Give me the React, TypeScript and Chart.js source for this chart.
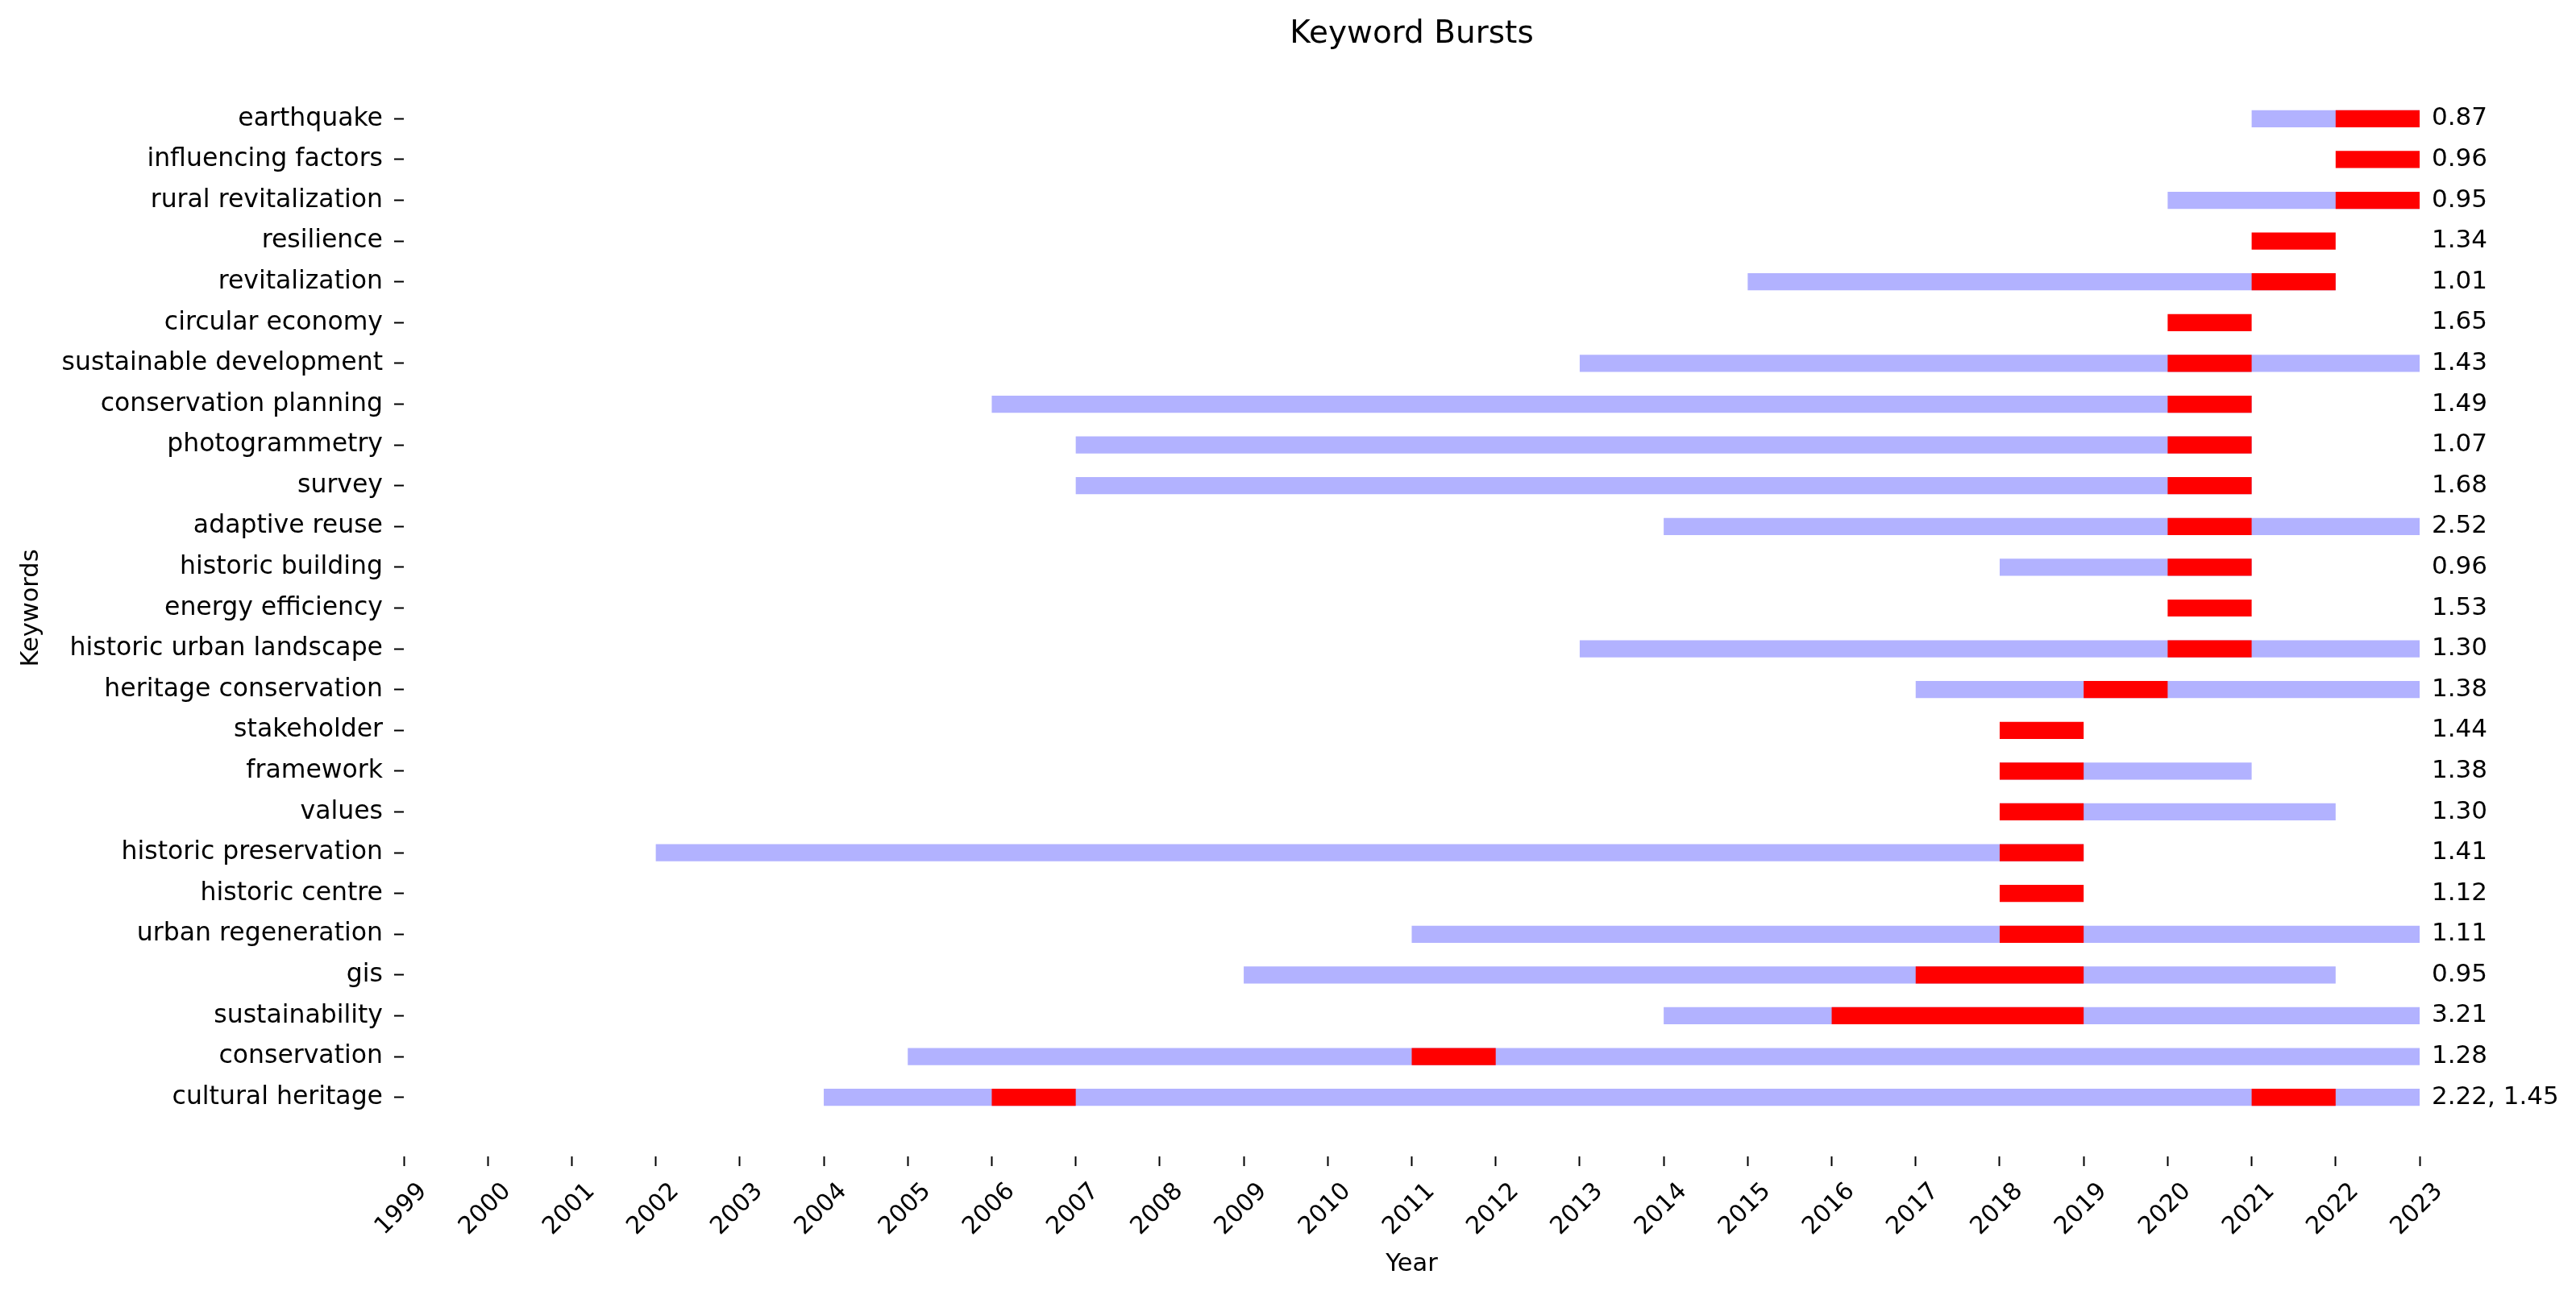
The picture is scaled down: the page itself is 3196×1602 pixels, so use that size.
import React, { useEffect, useRef } from "react";
import { Chart, registerables } from "chart.js";

Chart.register(...registerables);

// Rows listed top to bottom as in the figure
const keywords = [
  "earthquake", "influencing factors", "rural revitalization", "resilience", "revitalization",
  "circular economy", "sustainable development", "conservation planning", "photogrammetry", "survey",
  "adaptive reuse", "historic building", "energy efficiency", "historic urban landscape",
  "heritage conservation", "stakeholder", "framework", "values", "historic preservation",
  "historic centre", "urban regeneration", "gis", "sustainability", "conservation", "cultural heritage",
];
const spanStart: (number | null)[] = [
  2021, null, 2020, null, 2015, null, 2013, 2006, 2007, 2007,
  2014, 2018, null, 2013, 2017, null, 2018, 2018, 2002, null,
  2011, 2009, 2014, 2005, 2004,
];
const spanEnd: (number | null)[] = [
  2023, null, 2023, null, 2022, null, 2023, 2021, 2021, 2021,
  2023, 2021, null, 2023, 2023, null, 2021, 2022, 2019, null,
  2023, 2022, 2023, 2023, 2023,
];
const burstStarts: number[][] = [
  [2022], [2022], [2022], [2021], [2021], [2020], [2020], [2020], [2020], [2020],
  [2020], [2020], [2020], [2020], [2019], [2018], [2018], [2018], [2018], [2018],
  [2018], [2017], [2016], [2011], [2006, 2021],
];
const burstEnds: number[][] = [
  [2023], [2023], [2023], [2022], [2022], [2021], [2021], [2021], [2021], [2021],
  [2021], [2021], [2021], [2021], [2020], [2019], [2019], [2019], [2019], [2019],
  [2019], [2019], [2019], [2012], [2007, 2022],
];
const strengths = [
  "0.87", "0.96", "0.95", "1.34", "1.01", "1.65", "1.43", "1.49", "1.07", "1.68",
  "2.52", "0.96", "1.53", "1.30", "1.38", "1.44", "1.38", "1.30", "1.41", "1.12",
  "1.11", "0.95", "3.21", "1.28", "2.22, 1.45",
];
const yearMin = 1999;
const yearMax = 2023;

const FONT = "'DejaVu Sans', sans-serif";
const N = keywords.length;
const rowOf = (i: number) => N - 1 - i;

export default function App() {
  const ref = useRef<HTMLCanvasElement>(null);
  useEffect(() => {
    document.body.style.margin = "0";
    document.body.style.overflow = "hidden";
    const canvas = ref.current!;
    const spanData: any[] = [];
    keywords.forEach((_, i) => {
      if (spanStart[i] !== null && spanEnd[i] !== null) spanData.push({ x: [spanStart[i], spanEnd[i]], y: rowOf(i) });
    });
    const burstData: any[] = [];
    keywords.forEach((_, i) => {
      burstStarts[i].forEach((s, j) => burstData.push({ x: [s, burstEnds[i][j]], y: rowOf(i) }));
    });

    const textPlugin = {
      id: "texts",
      afterDatasetsDraw(chart: any) {
        const { ctx, chartArea, scales } = chart;
        const xs = scales.x, ys = scales.y;
        ctx.save();
        ctx.fillStyle = "#000";
        ctx.font = `31px ${FONT}`;
        ctx.textAlign = "left";
        ctx.textBaseline = "middle";
        keywords.forEach((_, i) => {
          ctx.fillText(strengths[i], xs.getPixelForValue(yearMax) + 15, ys.getPixelForValue(rowOf(i)));
        });
        const cx = (chartArea.left + chartArea.right) / 2;
        ctx.textAlign = "center";
        ctx.font = `39px ${FONT}`;
        ctx.fillText("Keyword Bursts", cx, 43);
        ctx.font = `30.5px ${FONT}`;
        ctx.fillText("Year", cx, chartArea.bottom + 134);
        ctx.translate(39, (chartArea.top + chartArea.bottom) / 2);
        ctx.rotate(-Math.PI / 2);
        ctx.fillText("Keywords", 0, 0);
        ctx.restore();
      },
    };

    const chart = new Chart(canvas, {
      type: "bar",
      data: {
        datasets: [
          {
            data: spanData,
            backgroundColor: "rgb(178,178,255)",
            borderWidth: 0,
            grouped: false,
            order: 2,
            categoryPercentage: 1,
            barPercentage: 0.42,
          } as any,
          {
            data: burstData,
            backgroundColor: "#ff0000",
            borderWidth: 0,
            grouped: false,
            order: 1,
            categoryPercentage: 1,
            barPercentage: 0.42,
          } as any,
        ],
      },
      options: {
        indexAxis: "y",
        animation: false,
        responsive: false,
        devicePixelRatio: 1,
        layout: { padding: { top: 74, right: 194, left: 0, bottom: 0 } },
        plugins: { legend: { display: false }, tooltip: { enabled: false }, title: { display: false } },
        scales: {
          x: {
            type: "linear",
            min: yearMin,
            max: yearMax,
            offset: false,
            border: { display: false },
            grid: { drawOnChartArea: false, drawTicks: true, offset: false, tickLength: 12, tickWidth: 2, tickColor: "#000" },
            ticks: {
              stepSize: 1,
              autoSkip: false,
              maxRotation: 45,
              minRotation: 45,
              labelOffset: 24,
              padding: 14,
              color: "#000",
              font: { family: FONT, size: 30 },
              callback: (v: any) => String(v),
            },
            afterFit: (s: any) => { s.height = 167; },
          },
          y: {
            type: "linear",
            min: -1.45,
            max: N - 1 + 1.45,
            offset: false,
            border: { display: false },
            grid: { drawOnChartArea: false, drawTicks: true, offset: false, tickLength: 12, tickWidth: 2, tickColor: "#000" },
            afterBuildTicks: (s: any) => { s.ticks = keywords.map((_, i) => ({ value: i })); },
            ticks: {
              autoSkip: false,
              padding: 14,
              color: "#000",
              font: { family: FONT, size: 31.5 },
              callback: (v: any) => keywords[N - 1 - v],
            },
            afterFit: (s: any) => { s.width = 501; },
          },
        },
      },
      plugins: [textPlugin],
    } as any);
    return () => chart.destroy();
  }, []);
  return <canvas ref={ref} width={3196} height={1602} style={{ width: 3196, height: 1602, display: "block" }} />;
}
